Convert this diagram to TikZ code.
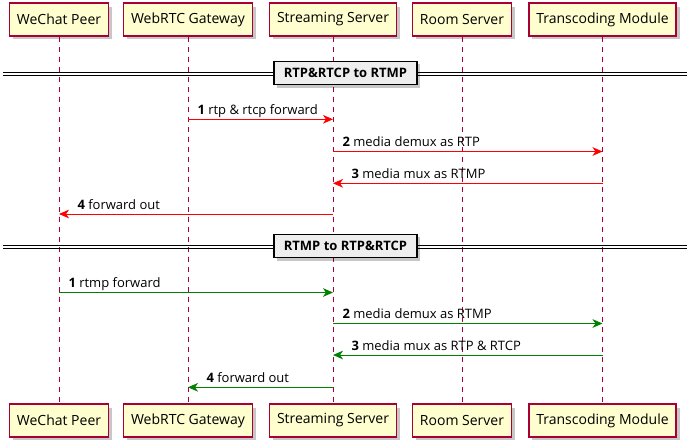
\documentclass[tikz,border=0pt]{standalone}
\usepackage{fontspec}
\setmainfont{Open Sans}
\usetikzlibrary{positioning, calc, arrows.meta, shadows}
\definecolor{xpart}{HTML}{FEFECE}
\definecolor{xborder}{HTML}{A80036}
\definecolor{xred}{HTML}{FF0000}
\definecolor{xgreen}{HTML}{008000}
\definecolor{xdiv}{HTML}{EEEEEE}
\tikzset{
	party/.style={draw=xborder, fill=xpart, line width=1.1pt, inner xsep=5.6pt, minimum height=24.5pt,
		font=\fontsize{10.5}{12}\selectfont, drop shadow={shadow xshift=2.6pt, shadow yshift=-2.6pt, fill=black, opacity=0.22}},
	lifeline/.style={draw=xborder, line width=0.75pt, dash pattern=on 3.75pt off 3.75pt},
	msg/.style={line width=0.75pt, -{Stealth[length=7.5pt, width=6.5pt, inset=2.2pt]}},
	lbl/.style={font=\fontsize{9.75}{12}\selectfont, inner sep=0pt},
	divbox/.style={draw=black, fill=xdiv, line width=1.1pt, inner xsep=7.5pt, minimum height=17.5pt,
		font=\fontsize{9.75}{12}\selectfont\bfseries, drop shadow={shadow xshift=2.2pt, shadow yshift=-2.2pt, fill=black, opacity=0.22}},
	divline/.style={line width=0.75pt},
}

\begin{document}
\begin{tikzpicture}[x=0.75pt, y=-0.75pt]
			\useasboundingbox (0,0) rectangle (698,447);

			% participants, top and bottom
			\node[party] (wpT) at (59,19.5) {WeChat Peer};
			\node[party] (gwT) at (188,19.5) {WebRTC Gateway};
			\node[party] (ssT) at (333,19.5) {Streaming Server};
			\node[party] (rsT) at (462,19.5) {Room Server};
			\node[party] (tmT) at (602.5,19.5) {Transcoding Module};

			\node[party] (wpB) at (59,420.5) {WeChat Peer};
			\node[party] (gwB) at (188,420.5) {WebRTC Gateway};
			\node[party] (ssB) at (333,420.5) {Streaming Server};
			\node[party] (rsB) at (462,420.5) {Room Server};
			\node[party] (tmB) at (602.5,420.5) {Transcoding Module};

			\draw[lifeline] (wpT) -- (wpB);
			\draw[lifeline] (gwT) -- (gwB);
			\draw[lifeline] (ssT) -- (ssB);
			\draw[lifeline] (rsT) -- (rsB);
			\draw[lifeline] (tmT) -- (tmB);

			% first divider
			\coordinate (d1L) at (3,72);
			\coordinate (d1R) at (687,72);
			\draw[divline] (d1L) -- (d1R);
			\draw[divline] ([yshift=-2.25pt]d1L) -- ([yshift=-2.25pt]d1R);
			\node[divbox] (D1) at (345.5,73) {RTP\&RTCP to RTMP};

			\coordinate (m1) at (0,119.3);
			\coordinate (m2) at (0,151.5);
			\coordinate (m3) at (0,183.3);
			\coordinate (m4) at (0,214);

			\draw[msg, xred] (gwT |- m1) -- node[lbl, pos=0, anchor=base west, xshift=6.75pt, yshift=3.5pt, black] {\textbf{1} rtp \& rtcp forward} (ssT |- m1);
			\draw[msg, xred] (ssT |- m2) -- node[lbl, pos=0, anchor=base west, xshift=6.75pt, yshift=3.5pt, black] {\textbf{2} media demux as RTP} (tmT |- m2);
			\draw[msg, xred] (tmT |- m3) -- node[lbl, pos=1, anchor=base west, xshift=13.5pt, yshift=3.5pt, black] {\textbf{3} media mux as RTMP} (ssT |- m3);
			\draw[msg, xred] (ssT |- m4) -- node[lbl, pos=1, anchor=base west, xshift=13.5pt, yshift=3.5pt, black] {\textbf{4} forward out} (wpT |- m4);

			% second divider
			\coordinate (d2L) at (3,245);
			\coordinate (d2R) at (687,245);
			\draw[divline] (d2L) -- (d2R);
			\draw[divline] ([yshift=-2.25pt]d2L) -- ([yshift=-2.25pt]d2R);
			\node[divbox] (D2) at (345.5,246) {RTMP to RTP\&RTCP};

			\coordinate (n1) at (0,292.5);
			\coordinate (n2) at (0,323.5);
			\coordinate (n3) at (0,355);
			\coordinate (n4) at (0,387.3);

			\draw[msg, xgreen] (wpT |- n1) -- node[lbl, pos=0, anchor=base west, xshift=6.75pt, yshift=3.5pt, black] {\textbf{1} rtmp forward} (ssT |- n1);
			\draw[msg, xgreen] (ssT |- n2) -- node[lbl, pos=0, anchor=base west, xshift=6.75pt, yshift=3.5pt, black] {\textbf{2} media demux as RTMP} (tmT |- n2);
			\draw[msg, xgreen] (tmT |- n3) -- node[lbl, pos=1, anchor=base west, xshift=13.5pt, yshift=3.5pt, black] {\textbf{3} media mux as RTP \& RTCP} (ssT |- n3);
			\draw[msg, xgreen] (ssT |- n4) -- node[lbl, pos=1, anchor=base west, xshift=13.5pt, yshift=3.5pt, black] {\textbf{4} forward out} (gwT |- n4);
		\end{tikzpicture}
\end{document}
